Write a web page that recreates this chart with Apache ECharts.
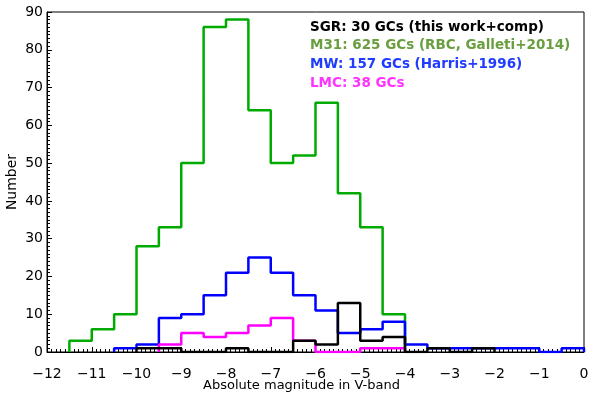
<!DOCTYPE html>
<html>
<head>
    <script src="https://cdn.jsdelivr.net/npm/echarts@6/dist/echarts.min.js"></script>
</head>
<body style="margin:0">
    <div id="chart" style="width:600px;height:400px"></div>
<script>
// bin left edges (width 0.5) and counts per sample
const binWidth = 0.5;
const sgrStart = -10;
const sgrCounts = [1, 1, 0, 0, 1, 0, 0, 3, 2, 13, 3, 4, 0, 1, 0, 1];
const m31Start = -11.5;
const m31Counts = [3, 6, 10, 28, 33, 50, 86, 88, 64, 50, 52, 66, 42, 33, 10];
const mwStart = -10.5;
const mwCounts = [1, 2, 9, 10, 15, 21, 25, 21, 15, 11, 5, 6, 8, 2, 1, 1, 1, 1, 1, 0, 1];
const lmcStart = -9.5;
const lmcCounts = [2, 5, 4, 5, 7, 9, 3, 0, 0, 1, 1];

const legendLines = [
    {text: 'SGR: 30 GCs (this work+comp)', color: '#000000'},
    {text: 'M31: 625 GCs (RBC, Galleti+2014)', color: '#6a9e3e'},
    {text: 'MW: 157 GCs (Harris+1996)', color: '#1f3cff'},
    {text: 'LMC: 38 GCs', color: '#ff33ff'}
];

// turn counts into step outline points
function stepData(start, counts) {
    var pts = [[start, 0]];
    for (var i = 0; i < counts.length; i++) {
        pts.push([start + i * binWidth, counts[i]]);
    }
    var end = start + counts.length * binWidth;
    pts.push([end, counts[counts.length - 1]]);
    pts.push([end, 0]);
    return pts;
}

function histSeries(name, start, counts, color, z) {
    return {
        name: name,
        type: 'line',
        step: 'end',
        symbol: 'none',
        z: z,
        lineStyle: {color: color, width: 2.5},
        data: stepData(start, counts)
    };
}

const font = 'DejaVu Sans';
var myChart = echarts.init(document.getElementById('chart'));
var option = {
    backgroundColor: '#ffffff',
    animation: false,
    grid: {
        left: 47, right: 16, top: 12, bottom: 48,
        outerBoundsMode: 'none',
        containLabel: false,
        show: true, borderColor: '#000', borderWidth: 1
    },
    graphic: legendLines.map(function(l, i) {
        return {
            type: 'text',
            x: 310,
            y: 27 + i * 18.7,
            style: {
                text: l.text, fill: l.color,
                font: 'bold 13.5px "DejaVu Sans"',
                textVerticalAlign: 'middle'
            }
        };
    }),
    xAxis: {
        type: 'value',
        min: -12, max: 0, interval: 1,
        name: 'Absolute magnitude in V-band',
        nameLocation: 'middle',
        nameGap: 21,
        nameMoveOverlap: false,
        nameTextStyle: {color: '#000', fontSize: 13, fontFamily: font, padding: [0, 28, 0, 0]},
        axisLine: {onZero: false, lineStyle: {color: '#000'}},
        axisTick: {inside: true, length: 5, lineStyle: {color: '#000'}},
        minorTick: {show: true, splitNumber: 10, length: 3, lineStyle: {color: '#000'}},
        splitLine: {show: false},
        axisLabel: {
            color: '#000', fontSize: 14, fontFamily: font, margin: 8,
            formatter: function(v) { return String(v).replace('-', '\u2212'); }
        }
    },
    yAxis: {
        type: 'value',
        min: 0, max: 90, interval: 10,
        name: 'Number',
        nameLocation: 'middle',
        nameGap: 21,
        nameMoveOverlap: false,
        nameTextStyle: {color: '#000', fontSize: 14, fontFamily: font},
        axisLine: {show: true, onZero: false, lineStyle: {color: '#000'}},
        axisTick: {inside: true, length: 5, lineStyle: {color: '#000'}},
        minorTick: {show: true, splitNumber: 10, length: 3, lineStyle: {color: '#000'}},
        splitLine: {show: false},
        axisLabel: {color: '#000', fontSize: 14, fontFamily: font, margin: 4}
    },
    series: [
        histSeries('M31', m31Start, m31Counts, '#00aa00', 2),
        histSeries('MW', mwStart, mwCounts, '#0000ff', 3),
        histSeries('LMC', lmcStart, lmcCounts, '#ff00ff', 4),
        histSeries('SGR', sgrStart, sgrCounts, '#000000', 5)
    ]
};
myChart.setOption(option);
</script>
</body>
</html>
